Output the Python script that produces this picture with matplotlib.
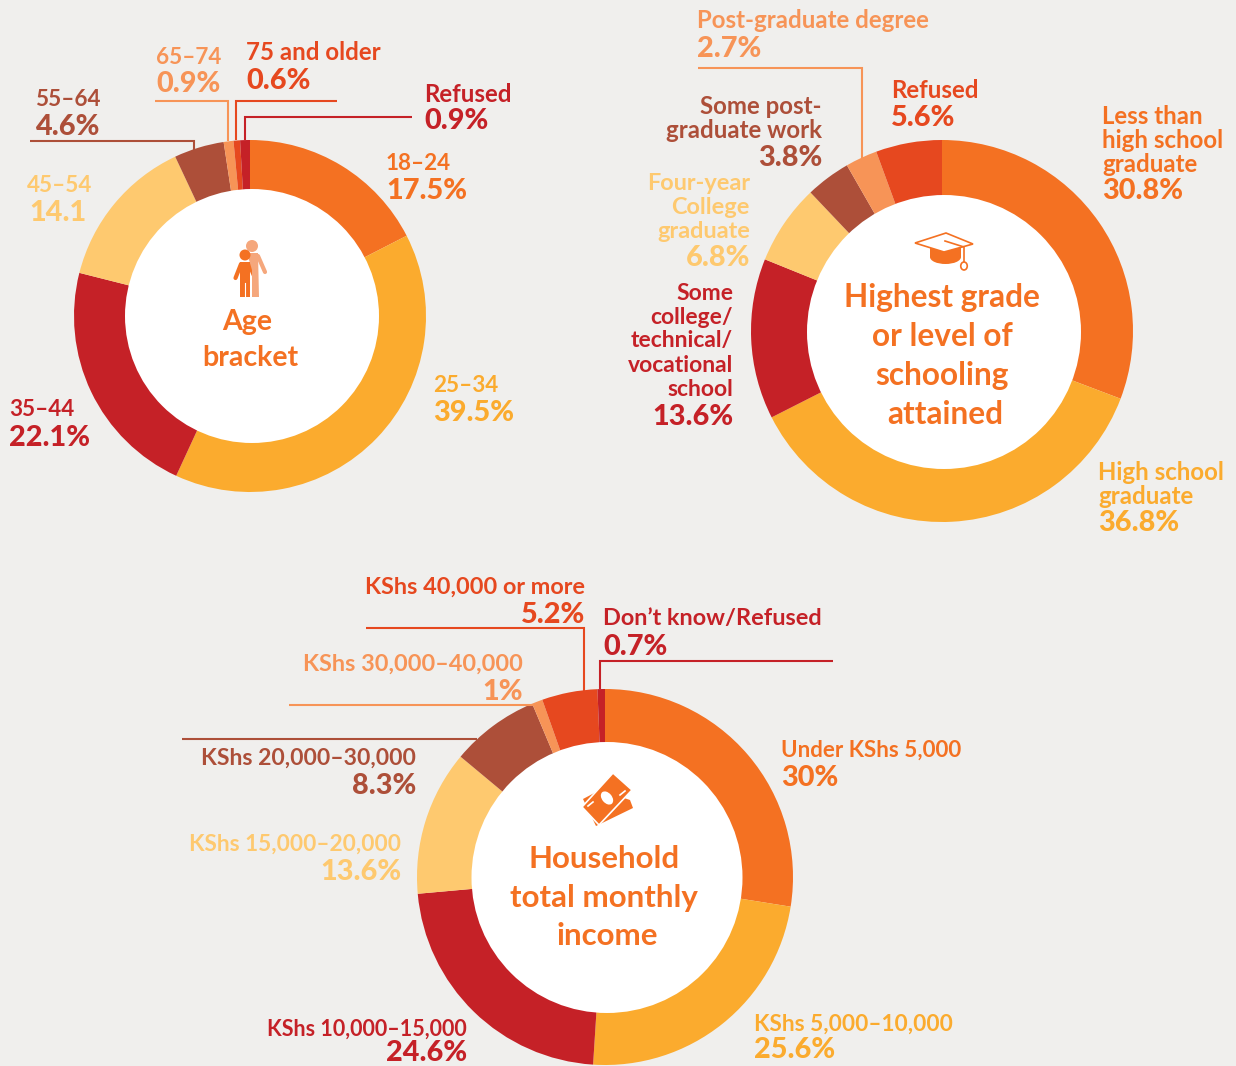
import matplotlib
matplotlib.use("Agg")
import matplotlib.pyplot as plt
from matplotlib.patches import Circle, Ellipse, Polygon

W, H = 1236, 1066
BG = "#F0EFED"
ORANGE = "#F47122"
AMBER = "#FBAB2E"
RED = "#C52127"
YELLOW = "#FEC96F"
BROWN = "#AD4F39"
SALMON = "#F79457"
VERMIL = "#E6481F"
SKIN = "#F5A77C"

age_labels = ["18–24", "25–34", "35–44", "45–54", "55–64", "65–74", "75 and older", "Refused"]
age_values = [17.5, 39.5, 22.1, 14.1, 4.6, 0.9, 0.6, 0.9]
age_display = ["17.5%", "39.5%", "22.1%", "14.1", "4.6%", "0.9%", "0.6%", "0.9%"]
age_colors = [ORANGE, AMBER, RED, YELLOW, BROWN, SALMON, VERMIL, RED]

edu_labels = [["Less than", "high school", "graduate"], ["High school", "graduate"],
              ["Some", "college/", "technical/", "vocational", "school"],
              ["Four-year", "College", "graduate"], ["Some post-", "graduate work"],
              ["Post-graduate degree"], ["Refused"]]
edu_values = [30.8, 36.8, 13.6, 6.8, 3.8, 2.7, 5.6]
edu_display = ["30.8%", "36.8%", "13.6%", "6.8%", "3.8%", "2.7%", "5.6%"]
edu_colors = [ORANGE, AMBER, RED, YELLOW, BROWN, SALMON, VERMIL]

inc_labels = ["Under KShs 5,000", "KShs 5,000–10,000", "KShs 10,000–15,000", "KShs 15,000–20,000",
              "KShs 20,000–30,000", "KShs 30,000–40,000", "KShs 40,000 or more", "Don’t know/Refused"]
inc_values = [30, 25.6, 24.6, 13.6, 8.3, 1, 5.2, 0.7]
inc_display = ["30%", "25.6%", "24.6%", "13.6%", "8.3%", "1%", "5.2%", "0.7%"]
inc_colors = [ORANGE, AMBER, RED, YELLOW, BROWN, SALMON, VERMIL, RED]

plt.rcParams["font.family"] = ["Lato", "Open Sans", "DejaVu Sans"]
fig = plt.figure(figsize=(W / 100, H / 100), dpi=100, facecolor=BG)


def donut(values, colors, cx, cy, r_out, icx, icy, r_in):
    ax = fig.add_axes([(cx - r_out) / W, 1 - (cy + r_out) / H, 2 * r_out / W, 2 * r_out / H])
    ax.pie(values, colors=colors, startangle=90, counterclock=False, radius=1,
           wedgeprops=dict(linewidth=0))
    ax.add_patch(Circle(((icx - cx) / r_out, (cy - icy) / r_out), r_in / r_out,
                        fc="white", ec="none", zorder=5))
    ax.set_xlim(-1, 1)
    ax.set_ylim(-1, 1)
    ax.set_aspect("equal")
    ax.patch.set_alpha(0)
    return ax


donut(age_values, age_colors, 250, 316, 176, 252, 316, 127)
donut(edu_values, edu_colors, 942, 331, 191, 944, 332, 137)
donut(inc_values, inc_colors, 605, 877, 188, 607, 877.5, 135.5)

ov = fig.add_axes([0, 0, 1, 1], zorder=10)
ov.set_xlim(0, W)
ov.set_ylim(H, 0)
ov.axis("off")
ov.patch.set_alpha(0)

S1, SD, S3, S3D = 17.3, 16.2, 16.9, 16.3


def lab(x, y, s, c, size=S1, ha="left"):
    ov.text(x, y + 2, s, color=c, fontsize=size, ha=ha, va="center", fontweight="bold")


def pct(x, y, s, c, ha="left", size=20.8):
    ov.text(x, y + 2, s, color=c, fontsize=size, ha=ha, va="center", fontweight="black")


def leader(xs, ys, c, lw=1.5):
    ov.plot(xs, ys, color=c, lw=lw, solid_capstyle="butt", solid_joinstyle="miter")


def limb(xs, ys, c, lw):
    ov.plot(xs, ys, color=c, lw=lw, solid_capstyle="round", solid_joinstyle="round")


def center(x, y, s, size):
    ov.text(x, y, s, color=ORANGE, fontsize=size, ha="center", va="center", fontweight="bold")


# ---- Age bracket
lab(386, 161, age_labels[0], ORANGE, SD); pct(386, 189, age_display[0], ORANGE)
lab(433, 384, age_labels[1], AMBER, SD); pct(433, 411, age_display[1], AMBER)
lab(9, 408, age_labels[2], RED, SD); pct(9, 436, age_display[2], RED)
lab(27, 183, age_labels[3], YELLOW, SD); pct(29, 211, age_display[3], YELLOW)
lab(35, 97, age_labels[4], BROWN, SD); pct(35, 125, age_display[4], BROWN)
lab(156, 55, age_labels[5], SALMON, SD); pct(156, 82, age_display[5], SALMON)
lab(246, 51, age_labels[6], VERMIL); pct(246, 79, age_display[6], VERMIL)
lab(424, 92, age_labels[7], RED); pct(424, 119, age_display[7], RED)
leader([30, 194, 194], [141, 141, 150], BROWN)
leader([155, 228, 228], [101, 101, 141], SALMON)
leader([337, 236, 236], [101, 101, 140], VERMIL)
leader([412, 245, 245], [117, 117, 140], RED)
center(247, 322, "Age", 20.5)
center(250, 358, "bracket", 20.5)

# people icon
ov.add_patch(Circle((252, 246), 6, fc=SKIN, ec="none", zorder=3))
ov.add_patch(Polygon([(247, 253), (258, 253), (259, 297), (252, 297), (252, 270)], fc=SKIN, ec="none", zorder=3))
limb([258, 265], [256, 272], SKIN, 3)
ov.add_patch(Circle((245, 255), 5.5, fc=ORANGE, ec="none", zorder=4))
ov.add_patch(Polygon([(240, 262), (250, 262), (250, 297), (240, 297)], fc=ORANGE, ec="none", zorder=4))
limb([241, 235.5], [264, 278], ORANGE, 3)
limb([249, 255], [264, 278], ORANGE, 3)
ov.plot([245, 245], [283, 298], color="white", lw=0.8, zorder=5)

# ---- Schooling
for i, s in enumerate(edu_labels[0]):
    lab(1102, 114 + 24 * i, s, ORANGE)
pct(1102, 189, edu_display[0], ORANGE)
for i, s in enumerate(edu_labels[1]):
    lab(1098, 470 + 24 * i, s, AMBER)
pct(1098, 521, edu_display[1], AMBER)
for i, s in enumerate(edu_labels[2]):
    lab(733, 291 + 24 * i, s, RED, 16.5, "right")
pct(733, 415, edu_display[2], RED, ha="right")
for i, s in enumerate(edu_labels[3]):
    lab(750, 181 + 24 * i, s, YELLOW, 16.9, "right")
pct(750, 256, edu_display[3], YELLOW, ha="right")
for i, s in enumerate(edu_labels[4]):
    lab(822, 104 + 24 * i, s, BROWN, ha="right")
pct(822, 156, edu_display[4], BROWN, ha="right")
lab(697, 19, edu_labels[5][0], SALMON); pct(697, 47, edu_display[5], SALMON)
lab(891, 89, edu_labels[6][0], VERMIL); pct(891, 116, edu_display[6], VERMIL)
leader([698, 862, 862], [68, 68, 160], SALMON)
center(942, 298, "Highest grade", 22.8)
center(942, 337, "or level of", 22.8)
center(942, 376, "schooling", 22.8)
center(945, 414, "attained", 22.8)

# mortarboard icon
ov.add_patch(Ellipse((945.5, 257), 31, 14, fc=ORANGE, ec="none", zorder=3))
ov.add_patch(Polygon([(930, 248), (961, 248), (961, 257), (930, 257)], fc=ORANGE, ec="none", zorder=3))
ov.add_patch(Polygon([(915, 243), (946, 233), (973, 244), (944, 252)], fc="white", ec=ORANGE, lw=1.2, zorder=4))
ov.plot([945, 964, 964], [241, 247, 262], color=ORANGE, lw=1.2, zorder=5)
ov.add_patch(Ellipse((964, 266), 6.5, 8, fc="white", ec=ORANGE, lw=1.2, zorder=5))

# ---- Income
lab(781, 748, inc_labels[0], ORANGE, 16.1); pct(781, 776, inc_display[0], ORANGE)
lab(754, 1022, inc_labels[1], AMBER, S3D); pct(754, 1048, inc_display[1], AMBER)
lab(467, 1027, inc_labels[2], RED, 15.5, "right"); pct(467, 1051, inc_display[2], RED, ha="right")
lab(401, 842, inc_labels[3], YELLOW, S3D, "right"); pct(401, 870, inc_display[3], YELLOW, ha="right")
lab(416, 756, inc_labels[4], BROWN, 16.6, "right"); pct(416, 784, inc_display[4], BROWN, ha="right")
lab(523, 662, inc_labels[5], SALMON, S3, "right"); pct(523, 690, inc_display[5], SALMON, ha="right")
lab(585, 585, inc_labels[6], VERMIL, S3, "right"); pct(585, 613, inc_display[6], VERMIL, ha="right")
lab(603, 617, inc_labels[7], RED, S3); pct(603, 645, inc_display[7], RED)
leader([182, 477], [739, 739], BROWN)
leader([289, 535], [705, 705], SALMON)
leader([366, 584, 584], [628, 628, 691], VERMIL)
leader([833, 600, 600], [661, 661, 689], RED)
center(604, 859, "Household", 22.5)
center(604, 898, "total monthly", 22.5)
center(607, 936, "income", 22.5)

# banknote icon
ov.add_patch(Polygon([(583, 799), (600, 790), (630, 800), (633, 808), (596, 826)], fc=ORANGE, ec="none", zorder=3))
ov.add_patch(Polygon([(613, 773), (632, 790), (599, 825), (582, 807)], fc=ORANGE, ec="white", lw=1.2, zorder=4))
ov.add_patch(Ellipse((607, 798), 10, 15, angle=-40, fc="white", ec="none", zorder=5))
ov.plot([588, 593], [806, 802], color="white", lw=1.2, zorder=5)
ov.plot([620, 625], [795, 791], color="white", lw=1.2, zorder=5)

fig.savefig("out.png", dpi=100, facecolor=BG)
